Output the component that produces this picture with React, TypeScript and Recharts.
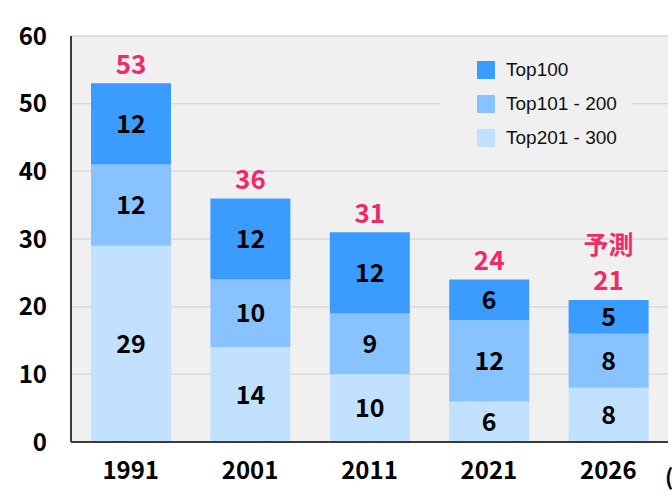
import React from "react";
import { BarChart, Bar, XAxis, YAxis, CartesianGrid, LabelList } from "recharts";

const years = ["1991", "2001", "2011", "2021", "2026"];
const top100 = [12, 12, 12, 6, 5];
const top101_200 = [12, 10, 9, 12, 8];
const top201_300 = [29, 14, 10, 6, 8];
const totals = [53, 36, 31, 24, 21];
const notes = ["", "", "", "", "予測"];
const yTicks = [0, 10, 20, 30, 40, 50, 60];
const seriesNames = ["Top100", "Top101 - 200", "Top201 - 300"];
const colors = ["#3b9cff", "#88c2ff", "#c2e0ff"];

const data = years.map((y, i) => ({
  year: y,
  a: top201_300[i],
  b: top101_200[i],
  c: top100[i],
  total: totals[i],
  note: notes[i],
}));

const numFont = "'Noto Sans CJK JP', 'Noto Sans', sans-serif";

const TotalLabel = (props: any) => {
  const { x, y, width, index } = props;
  const cx = x + width / 2;
  return (
    <g>
      {notes[index] ? (
        <text x={cx} y={y - 57} textAnchor="middle" dominantBaseline="central" fill="#ef2a6b" fontSize={25} fontWeight={700} fontFamily={numFont}>
          {notes[index]}
        </text>
      ) : null}
      <text x={cx} y={y - 21} textAnchor="middle" dominantBaseline="central" fill="#ef2a6b" fontSize={26} fontWeight={700} fontFamily={numFont}>
        {totals[index]}
      </text>
    </g>
  );
};

const LegendBox = () => (
  <div style={{ position: "absolute", left: 440, top: 50, background: "#f0f0f0", width: 192, height: 104, fontFamily: "'Liberation Sans', Arial, sans-serif" }}>
    {seriesNames.map((n, i) => (
      <div key={n} style={{ position: "absolute", left: 37, top: 10 + i * 34, display: "flex", alignItems: "center", height: 20 }}>
        <div style={{ width: 18, height: 18, background: colors[i], marginRight: 11 }} />
        <span style={{ fontSize: 19, color: "#111" }}>{n}</span>
      </div>
    ))}
  </div>
);

export default function App() {
  return (
    <div style={{ position: "absolute", left: 0, top: 0, width: 672, height: 496, background: "#fff", overflow: "hidden" }}>
      <BarChart width={672} height={496} data={data} margin={{ top: 36, right: 4, bottom: 0, left: 0 }} barSize={80}>
        <CartesianGrid vertical={false} stroke="#d9d9d9" fill="#f0f0f0" strokeWidth={1.5} />
        <XAxis dataKey="year" axisLine={{ stroke: "#3a3a3a", strokeWidth: 2 }} tickLine={false} tickSize={0} tickMargin={20} height={54}
          tick={{ fill: "#000", fontSize: 24, fontWeight: 700, fontFamily: numFont }} />
        <XAxis xAxisId="top" orientation="top" dataKey="year" axisLine={{ stroke: "#3a3a3a", strokeWidth: 2 }} tick={false} tickLine={false} height={0} />
        <YAxis domain={[0, 60]} ticks={yTicks} axisLine={{ stroke: "#3a3a3a", strokeWidth: 2 }} tickLine={false} tickSize={0} tickMargin={24} width={71}
          tick={{ fill: "#000", fontSize: 24, fontWeight: 700, fontFamily: numFont }} />
        <YAxis yAxisId="right" orientation="right" domain={[0, 60]} axisLine={{ stroke: "#3a3a3a", strokeWidth: 2 }} tick={false} tickLine={false} width={0} />
        <Bar dataKey="a" stackId="s" fill={colors[2]} isAnimationActive={false} name={seriesNames[2]}>
          <LabelList dataKey="a" position="center" fill="#000" fontSize={25} fontWeight={700} fontFamily={numFont} />
        </Bar>
        <Bar dataKey="b" stackId="s" fill={colors[1]} isAnimationActive={false} name={seriesNames[1]}>
          <LabelList dataKey="b" position="center" fill="#000" fontSize={25} fontWeight={700} fontFamily={numFont} />
        </Bar>
        <Bar dataKey="c" stackId="s" fill={colors[0]} isAnimationActive={false} name={seriesNames[0]}>
          <LabelList dataKey="c" position="center" fill="#000" fontSize={25} fontWeight={700} fontFamily={numFont} />
          <LabelList dataKey="total" content={<TotalLabel />} />
        </Bar>
      </BarChart>
      <LegendBox />
      <div style={{ position: "absolute", left: 665, top: 461, fontSize: 22, fontWeight: 700, fontFamily: numFont, whiteSpace: "nowrap", lineHeight: "28px" }}>(年)</div>
    </div>
  );
}
